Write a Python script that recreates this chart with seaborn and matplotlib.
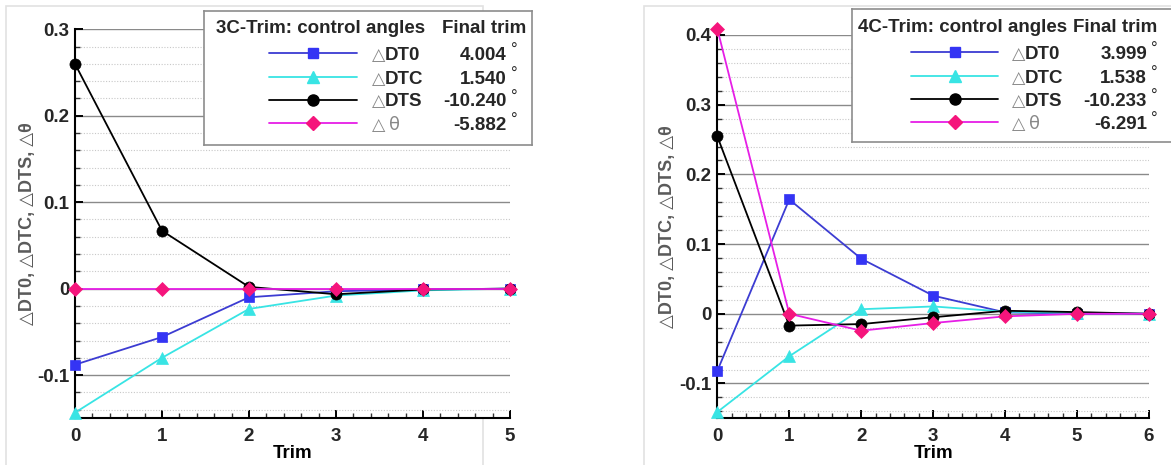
import matplotlib
matplotlib.use('Agg')
import matplotlib.pyplot as plt
import seaborn as sns
from matplotlib.patches import Rectangle
from matplotlib.ticker import MultipleLocator, FuncFormatter

# 3C trim history
trim_3c = [0, 1, 2, 3, 4, 5]
dt0_3c = [-0.088, -0.056, -0.010, -0.003, -0.001, 0.0]
dtc_3c = [-0.1435, -0.080, -0.0235, -0.008, -0.002, 0.0]
dts_3c = [0.260, 0.067, 0.002, -0.0065, -0.001, 0.0]
theta_3c = [0.0, 0.0, 0.0, 0.0, 0.0, 0.0]
final_3c = ['4.004', '1.540', '-10.240', '-5.882']

# 4C trim history
trim_4c = [0, 1, 2, 3, 4, 5, 6]
dt0_4c = [-0.082, 0.164, 0.079, 0.026, 0.002, 0.0, 0.0]
dtc_4c = [-0.141, -0.061, 0.0065, 0.0105, 0.003, 0.001, 0.0]
dts_4c = [0.2546, -0.017, -0.0148, -0.005, 0.0043, 0.0024, 0.0]
theta_4c = [0.409, 0.0, -0.0243, -0.0133, -0.0037, 0.0, 0.0]
final_4c = ['3.999', '1.538', '-10.233', '-6.291']

names = ['DT0', 'DTC', 'DTS', 'θ']

styles = {
    'DT0': dict(color='#3c3cd2', marker='s', markerfacecolor='#3434f4', markersize=7),
    'DTC': dict(color='#38e4e4', marker='^', markerfacecolor='#38e4e4', markersize=8),
    'DTS': dict(color='black', marker='o', markerfacecolor='black', markersize=8),
    'θ': dict(color='#e61ee6', marker='D', markerfacecolor='#f5157c', markersize=7.5),
}

sns.set_style('ticks')
plt.rcParams['font.family'] = ['Liberation Sans', 'DejaVu Sans']

W, H = 1171, 465
fig = plt.figure(figsize=(W / 100, H / 100), dpi=100)


def fx(x):
    return x / W


def fy(y):
    return 1 - y / H


# light frames around each panel
for x0, y0, x1, y1 in [(6, 6, 483, 475), (644, 6, 1180, 475)]:
    fig.patches.append(Rectangle((fx(x0), fy(y1)), (x1 - x0) / W, (y1 - y0) / H,
                                 transform=fig.transFigure, fill=False,
                                 ec='#e2e2e2', lw=1.2, zorder=-1))


def make_panel(rect, trims, series, ylim, ylab_x, xlab_y):
    left, top, right, bottom = rect
    ax = fig.add_axes([fx(left), fy(bottom), (right - left) / W, (bottom - top) / H])
    ax.set_xlim(trims[0], trims[-1])
    ax.set_ylim(*ylim)
    ax.yaxis.set_major_locator(MultipleLocator(0.1))
    ax.yaxis.set_minor_locator(MultipleLocator(0.02))
    ax.xaxis.set_major_locator(MultipleLocator(1))
    ax.xaxis.set_minor_locator(MultipleLocator(0.2))
    ax.yaxis.set_major_formatter(FuncFormatter(lambda v, p: '%g' % round(v, 3)))
    ax.grid(axis='y', which='major', color='#8a8a8a', lw=1.0, ls='-')
    ax.grid(axis='y', which='minor', color='#c8c8c8', lw=0.8, ls=(0, (1, 1.5)))
    ax.grid(axis='x', which='both', visible=False)
    ax.set_axisbelow(True)
    for s in ['top', 'right']:
        ax.spines[s].set_visible(False)
    for s in ['left', 'bottom']:
        ax.spines[s].set_linewidth(1.5)
        ax.spines[s].set_color('black')
    ax.tick_params(which='major', direction='in', length=6, width=1.4, labelsize=13.5,
                   color='black')
    ax.tick_params(which='minor', direction='in', length=3.5, width=1.0, color='#333333')
    ax.tick_params(axis='x', which='major', pad=7)
    ax.tick_params(axis='y', which='major', pad=4)
    for lab in ax.get_xticklabels() + ax.get_yticklabels():
        lab.set_fontweight('bold')

    for name, vals in zip(names, series):
        st = styles[name]
        sns.lineplot(x=trims, y=vals, ax=ax, color=st['color'], lw=1.3,
                     marker=st['marker'], markerfacecolor=st['markerfacecolor'],
                     markeredgecolor=st['markerfacecolor'], markeredgewidth=0.5,
                     markersize=st['markersize'], clip_on=False, zorder=3)

    ax.set_ylabel('△DT0, △DTC, △DTS, △θ', fontsize=13, color='#5a5a5a',
                  fontweight='bold')
    ax.yaxis.set_label_coords(ylab_x, 0.5)
    ax.set_xlabel('Trim', fontsize=13.5, color='black', fontweight='bold')
    ax.xaxis.set_label_coords(0.5, xlab_y)
    return ax


def draw_legend(box, title, values, cols, rows):
    x0, y0, x1, y1 = box
    title_x, final_x, line_x0, line_x1, label_x, value_x = cols
    lax = fig.add_axes([fx(x0), fy(y1), (x1 - x0) / W, (y1 - y0) / H], zorder=5)
    lax.set_xlim(x0, x1)
    lax.set_ylim(y1, y0)
    lax.set_facecolor('white')
    lax.set_xticks([])
    lax.set_yticks([])
    for s in lax.spines.values():
        s.set_color('#8c8c8c')
        s.set_linewidth(1.2)
    lax.text(title_x, rows[0] - 20, title + ': control angles', fontsize=13.5,
             fontweight='bold', va='baseline')
    lax.text(final_x, rows[0] - 20, 'Final trim', fontsize=13.5, fontweight='bold',
             va='baseline')
    for name, val, ry in zip(names, values, rows):
        st = styles[name]
        lax.plot([line_x0, line_x1], [ry, ry], color=st['color'], lw=1.3)
        lax.plot([(line_x0 + line_x1) / 2], [ry], color=st['color'], lw=0,
                 marker=st['marker'], markerfacecolor=st['markerfacecolor'],
                 markeredgecolor=st['markerfacecolor'], markersize=st['markersize'])
        lax.text(label_x, ry + 6.5, '△', fontsize=12.5, color='#888888',
                 fontweight='normal', va='baseline', family='DejaVu Sans')
        if name == 'θ':
            lax.text(label_x + 17, ry + 6.5, 'θ', fontsize=13, color='#888888',
                     fontweight='normal', va='baseline', family='DejaVu Sans')
        else:
            lax.text(label_x + 13, ry + 6.5, name, fontsize=13.5, fontweight='bold',
                     va='baseline')
        lax.text(value_x, ry + 6.5, val, fontsize=13.5, fontweight='bold', ha='right',
                 va='baseline')
        lax.text(value_x + 4, ry + 1.5, '°', fontsize=12, va='baseline')


make_panel((75, 29.3, 510, 418.3), trim_3c, [dt0_3c, dtc_3c, dts_3c, theta_3c],
           (-0.15, 0.3), -0.0897, -0.068)
make_panel((717.3, 35, 1149, 418.3), trim_4c, [dt0_4c, dtc_4c, dts_4c, theta_4c],
           (-0.15, 0.4), -0.0957, -0.069)

draw_legend((204, 11, 532, 145), '3C-Trim', final_3c,
            (216, 442, 269, 357, 372, 507), [53.3, 77.3, 100, 123.3])
draw_legend((852, 9, 1180, 142), '4C-Trim', final_4c,
            (858, 1073, 911, 998, 1012, 1147), [52.3, 76, 99, 122.3])

fig.savefig('out.png', dpi=100, facecolor='white')
